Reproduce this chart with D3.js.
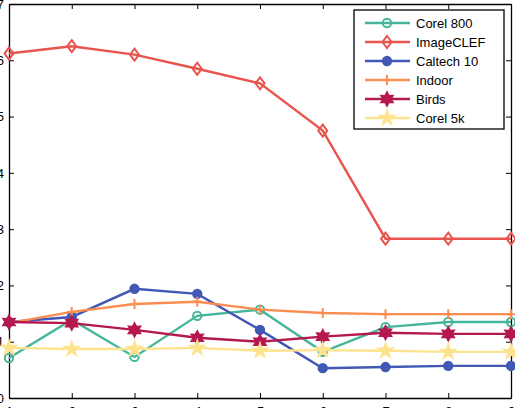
<!DOCTYPE html>
<html>
<head>
<meta charset="utf-8">
<script src="https://cdn.jsdelivr.net/npm/d3@7"></script>
<style>
  body { margin: 0; background: #fff; }
  svg { display: block; }
  text { font-family: "Liberation Sans", Arial, sans-serif; }
</style>
</head>
<body>
<div id="chart"></div>
<script>
// data
const xs = [1, 2, 3, 4, 5, 6, 7, 8, 9];
const corel800 = [0.71, 1.39, 0.73, 1.46, 1.57, 0.82, 1.26, 1.35, 1.35];
const imageClef = [6.12, 6.25, 6.10, 5.85, 5.59, 4.75, 2.83, 2.83, 2.83];
const caltech10 = [1.35, 1.44, 1.94, 1.85, 1.21, 0.53, 0.55, 0.57, 0.57];
const indoor = [1.33, 1.53, 1.67, 1.71, 1.57, 1.51, 1.49, 1.49, 1.49];
const birds = [1.35, 1.33, 1.21, 1.07, 1.00, 1.09, 1.16, 1.14, 1.14];
const corel5k = [0.89, 0.87, 0.87, 0.89, 0.84, 0.85, 0.84, 0.82, 0.82];
const yTicks = [0, 1, 2, 3, 4, 5, 6, 7];
const seriesNames = ["Corel 800", "ImageCLEF", "Caltech 10", "Indoor", "Birds", "Corel 5k"];

var W = 515, H = 408;
var pL = 9, pR = 511, pT = 4, pB = 398;

// custom marker shapes
const hexagram = {
  draw(ctx, size) {
    var r = Math.sqrt(size) * 0.75, ri = r * 0.55;
    for (var i = 0; i < 12; i++) {
      var a = -Math.PI / 2 + i * Math.PI / 6, rr = i % 2 ? ri : r;
      if (i === 0) ctx.moveTo(rr * Math.cos(a), rr * Math.sin(a));
      else ctx.lineTo(rr * Math.cos(a), rr * Math.sin(a));
    }
    ctx.closePath();
  }
};
const diamond = {
  draw(ctx, size) {
    var h = Math.sqrt(size) * 0.65, w = h * 0.75;
    ctx.moveTo(0, -h); ctx.lineTo(w, 0); ctx.lineTo(0, h); ctx.lineTo(-w, 0);
    ctx.closePath();
  }
};
const plus = {
  draw(ctx, size) {
    var r = Math.sqrt(size) * 0.5;
    ctx.moveTo(-r, 0); ctx.lineTo(r, 0);
    ctx.moveTo(0, -r); ctx.lineTo(0, r);
  }
};

const series = [
  {name: seriesNames[0], values: corel800, color: "#45b59b", sym: d3.symbolCircle, size: 55, fill: "none"},
  {name: seriesNames[1], values: imageClef, color: "#e8554e", sym: diamond, size: 85, fill: "none"},
  {name: seriesNames[2], values: caltech10, color: "#4158b5", sym: d3.symbolCircle, size: 55, fill: "#4158b5"},
  {name: seriesNames[3], values: indoor, color: "#fb8d50", sym: plus, size: 100, fill: "none"},
  {name: seriesNames[4], values: birds, color: "#b5184f", sym: hexagram, size: 75, fill: "#b5184f"},
  {name: seriesNames[5], values: corel5k, color: "#fee38e", sym: d3.symbolStar, size: 55, fill: "#fee38e"}
];

const svg = d3.select("#chart").append("svg")
  .attr("width", W).attr("height", H);

const x = d3.scaleLinear().domain([1, 9]).range([pL, pR]);
const y = d3.scaleLinear().domain([0, 7]).range([pB, pT]);

// axes, matlab style ticks pointing inward
svg.append("g").attr("transform", `translate(0,${pB})`)
  .call(d3.axisBottom(x).tickValues(xs).tickFormat(d3.format("d")).tickSizeInner(-5).tickSizeOuter(0).tickPadding(9));
svg.append("g").attr("transform", `translate(0,${pT})`)
  .call(d3.axisTop(x).tickValues(xs).tickFormat("").tickSizeInner(-5).tickSizeOuter(0));
svg.append("g").attr("transform", `translate(${pL},0)`)
  .call(d3.axisLeft(y).tickValues(yTicks).tickFormat(d3.format("d")).tickSizeInner(-5).tickSizeOuter(0).tickPadding(5));
svg.append("g").attr("transform", `translate(${pR},0)`)
  .call(d3.axisRight(y).tickValues(yTicks).tickFormat("").tickSizeInner(-5).tickSizeOuter(0));

svg.selectAll(".domain").attr("stroke", "#000").attr("stroke-width", 1.3);
svg.selectAll(".tick line").attr("stroke", "#000");
svg.selectAll(".tick text").attr("font-size", 13).attr("fill", "#000")
  .attr("font-family", "Liberation Sans, Arial, sans-serif");

const line = d3.line().x((d, i) => x(xs[i])).y(d => y(d));

series.forEach(s => {
  const g = svg.append("g");
  g.append("path").datum(s.values)
    .attr("d", line).attr("fill", "none")
    .attr("stroke", s.color).attr("stroke-width", 2.4);
  g.selectAll("path.m").data(s.values).enter().append("path")
    .attr("class", "m")
    .attr("transform", (d, i) => `translate(${x(xs[i])},${y(d)})`)
    .attr("d", d3.symbol().type(s.sym).size(s.size))
    .attr("fill", s.fill).attr("stroke", s.color).attr("stroke-width", 2);
});

// legend
const lg = svg.append("g").attr("transform", "translate(354,10)");
lg.append("rect").attr("width", 150).attr("height", 119)
  .attr("fill", "#fff").attr("stroke", "#000").attr("stroke-width", 1.3);
series.forEach((s, i) => {
  const yy = 13 + i * 19;
  lg.append("line").attr("x1", 11).attr("x2", 56).attr("y1", yy).attr("y2", yy)
    .attr("stroke", s.color).attr("stroke-width", 2.4);
  lg.append("path").attr("transform", `translate(33,${yy})`)
    .attr("d", d3.symbol().type(s.sym).size(s.size))
    .attr("fill", s.fill).attr("stroke", s.color).attr("stroke-width", 2);
  lg.append("text").attr("x", 62).attr("y", yy + 4.5)
    .attr("font-size", 13).text(s.name);
});
</script>
</body>
</html>
